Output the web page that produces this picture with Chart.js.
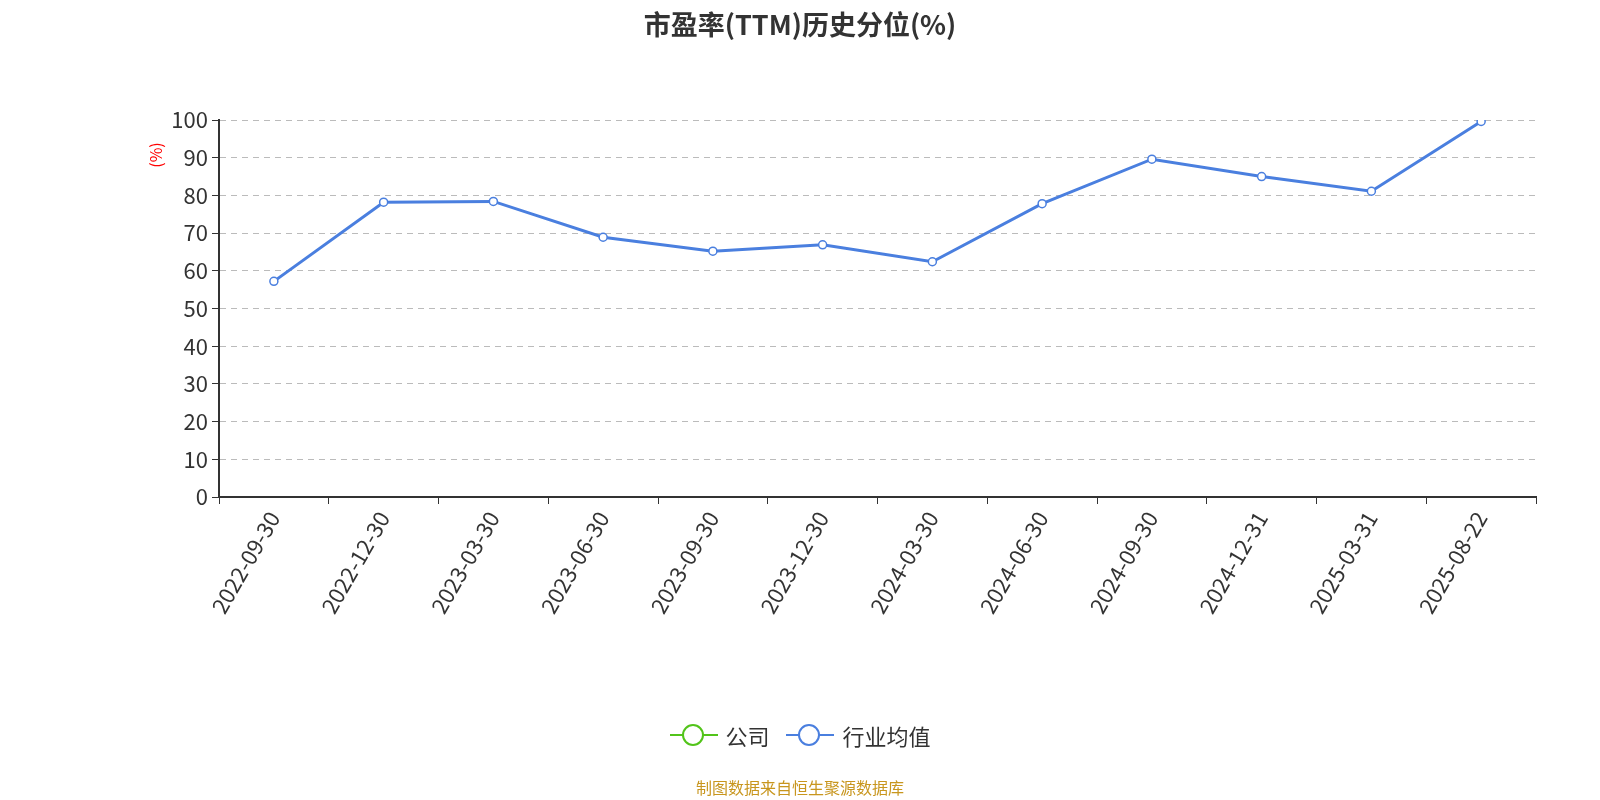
<!DOCTYPE html>
<html><head><meta charset="utf-8">
<script src="https://cdn.jsdelivr.net/npm/chart.js@4/dist/chart.umd.min.js"></script>
<style>
body{margin:0;background:#fff;font-family:"Noto Sans CJK SC","Noto Sans",sans-serif;}
#wrap{position:relative;width:1600px;height:800px;}
#title{position:absolute;top:4px;left:0;width:1600px;text-align:center;font-size:27px;font-weight:bold;color:#333;}
#legend{position:absolute;top:719px;left:0;width:1600px;text-align:center;font-size:22px;color:#333;}
.li{display:inline-flex;align-items:center;margin:0 6px;}
.sw{position:relative;width:48px;height:26px;margin-right:8px;}
.sw i{position:absolute;left:0;top:12px;width:48px;height:2px;}
.sw b{position:absolute;left:12px;top:2px;width:18px;height:18px;border-radius:50%;background:#fff;border:2px solid;}
#foot{position:absolute;top:775px;left:0;width:1600px;text-align:center;font-size:16px;color:#c8961e;}
</style></head>
<body><div id="wrap">
<canvas id="c" width="1600" height="800"></canvas>
<div id="title">市盈率(TTM)历史分位(%)</div>
<div id="legend">
<span class="li"><span class="sw"><i style="background:#52c41a"></i><b style="border-color:#52c41a"></b></span>公司</span>
<span class="li"><span class="sw"><i style="background:#4a7fdf"></i><b style="border-color:#4a7fdf"></b></span>行业均值</span>
</div>
<div id="foot">制图数据来自恒生聚源数据库</div>
</div>
<script>
const dates = ['2022-09-30','2022-12-30','2023-03-30','2023-06-30','2023-09-30','2023-12-30','2024-03-30','2024-06-30','2024-09-30','2024-12-31','2025-03-31','2025-08-22'];
const industry = [57.2, 78.2, 78.4, 68.9, 65.2, 66.9, 62.4, 77.8, 89.6, 85.0, 81.1, 99.6];
const company = [];

const unitLabel = {
    id: 'unitLabel',
    afterDraw(chart){
        const ctx = chart.ctx;
        ctx.save();
        ctx.translate(156, 155);
        ctx.rotate(-Math.PI/2);
        ctx.fillStyle = 'red';
        ctx.font = '16px "Noto Sans CJK SC"';
        ctx.textAlign = 'center';
        ctx.textBaseline = 'middle';
        ctx.fillText('(%)', 0, 0);
        ctx.restore();
    }
};

new Chart(document.getElementById('c'), {
    type: 'line',
    data: {
        labels: dates,
        datasets: [
            { label: '公司', data: company, borderColor: '#52c41a' },
            { label: '行业均值', data: industry, borderColor: '#4a7fdf', borderWidth: 3,
              pointBackgroundColor: '#fff', pointBorderColor: '#4a7fdf', pointBorderWidth: 1.5,
              pointRadius: 4, tension: 0 }
        ]
    },
    options: {
        responsive: false, animation: false,
        layout: { padding: { left: 0, top: 120, right: 64, bottom: 0 } },
        plugins: { legend: { display: false }, tooltip: { enabled: false } },
        scales: {
            x: {
                offset: true,
                afterFit(s){ s.height = 303; },
                grid: { display: true, drawOnChartArea: false, offset: true, tickLength: 7, color: '#333' },
                border: { color: '#333', width: 2 },
                ticks: { maxRotation: 60, minRotation: 60, color: '#333', font: { size: 22, family: 'Noto Sans CJK SC' } }
            },
            y: {
                min: 0, max: 100,
                afterFit(s){ s.width = 219; },
                grid: { color: '#bbb', tickLength: 7, tickColor: '#333' },
                border: { color: '#333', width: 2, dash: [6, 5] },
                ticks: { stepSize: 10, color: '#333', padding: 4, font: { size: 22, family: 'Noto Sans CJK SC' } }
            }
        }
    },
    plugins: [unitLabel]
});
</script>
</body></html>
